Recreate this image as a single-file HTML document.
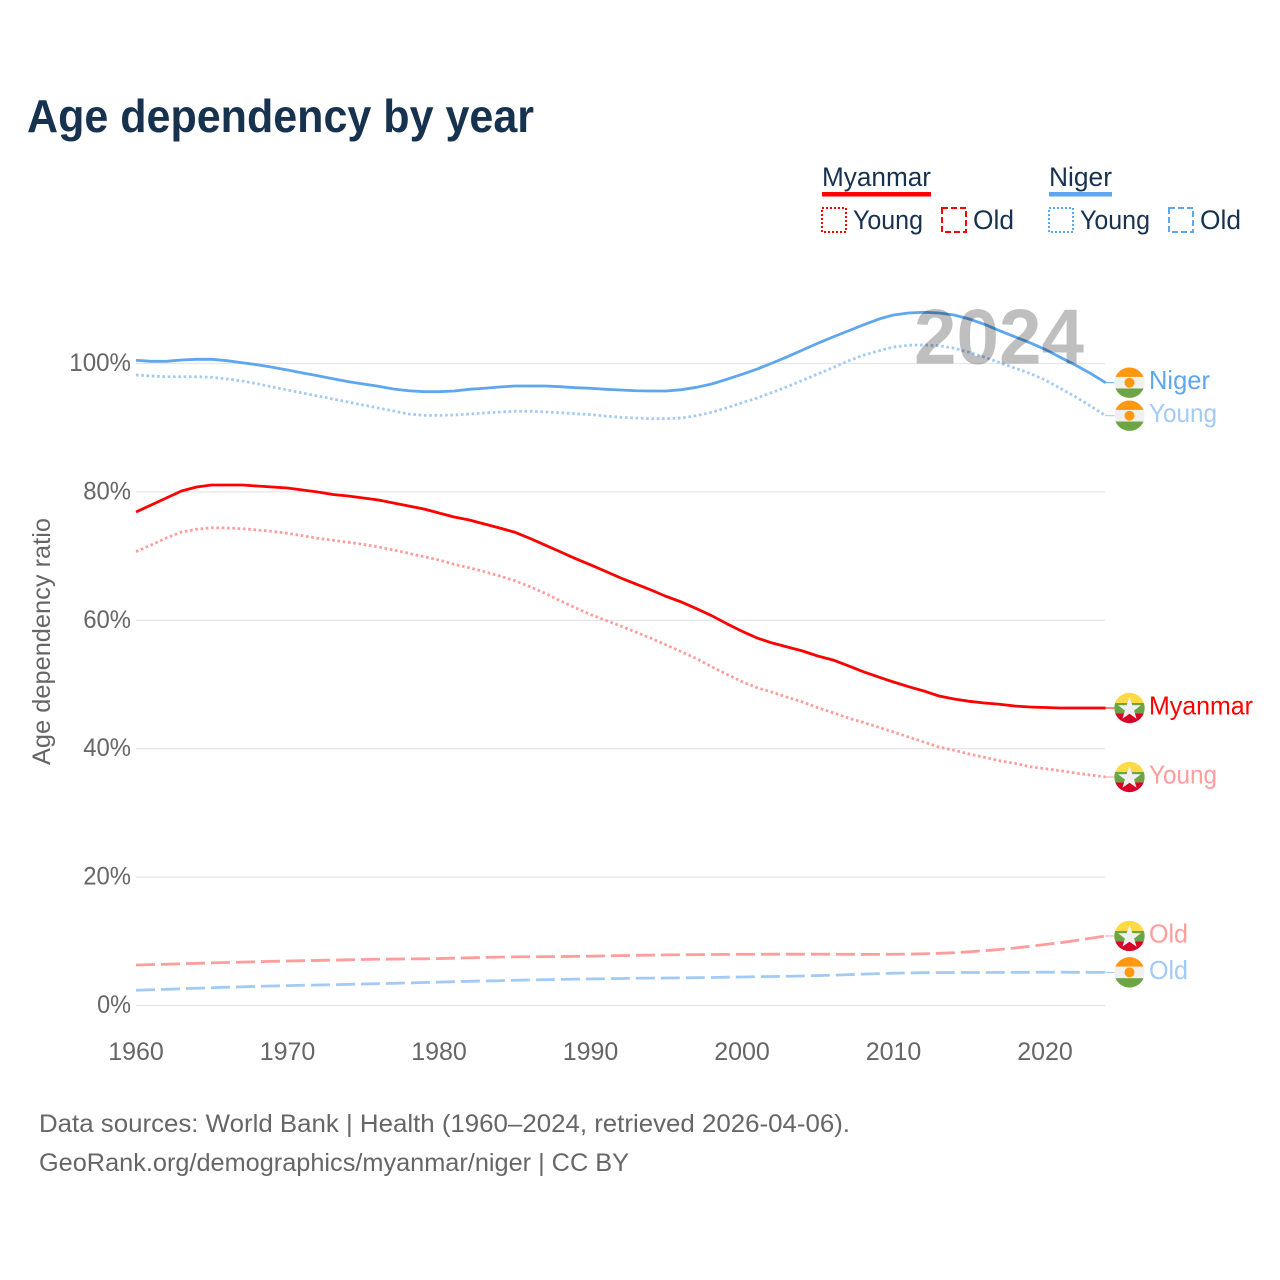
<!DOCTYPE html>
<html lang="en">
<head>
<meta charset="utf-8">
<title>Age dependency by year</title>
<style>
html,body{margin:0;padding:0;background:#fff;width:1280px;height:1280px;overflow:hidden}
svg{display:block}
text{font-family:"Liberation Sans",sans-serif}
</style>
</head>
<body>
<svg id="chart" xmlns="http://www.w3.org/2000/svg" width="1280" height="1280" viewBox="0 0 1280 1280">
  <rect width="1280" height="1280" fill="#fff"/>
  <text x="27" y="132" font-size="46" font-weight="700" fill="#17324f" textLength="507" lengthAdjust="spacingAndGlyphs">Age dependency by year</text>

  <g font-size="27" fill="#17324f">
    <text x="822" y="186" textLength="109" lengthAdjust="spacingAndGlyphs">Myanmar</text>
    <rect x="822" y="192" width="109" height="4.5" fill="#ff0000"/>
    <rect x="822" y="208" width="24" height="24" fill="none" stroke="#ff0000" stroke-width="2" stroke-dasharray="2 2"/>
    <text x="853" y="229" textLength="70" lengthAdjust="spacingAndGlyphs">Young</text>
    <rect x="942" y="208" width="24" height="24" fill="none" stroke="#ff0000" stroke-width="2" stroke-dasharray="6 3"/>
    <text x="973" y="229" textLength="41" lengthAdjust="spacingAndGlyphs">Old</text>

    <text x="1049" y="186" textLength="63" lengthAdjust="spacingAndGlyphs">Niger</text>
    <rect x="1049" y="192" width="63" height="4.5" fill="#5ea6ee"/>
    <rect x="1049" y="208" width="24" height="24" fill="none" stroke="#5ea6ee" stroke-width="2" stroke-dasharray="2 2"/>
    <text x="1080" y="229" textLength="70" lengthAdjust="spacingAndGlyphs">Young</text>
    <rect x="1169" y="208" width="24" height="24" fill="none" stroke="#5ea6ee" stroke-width="2" stroke-dasharray="6 3"/>
    <text x="1200" y="229" textLength="41" lengthAdjust="spacingAndGlyphs">Old</text>
  </g>

  <g id="grid"></g>
  <g id="yticks" font-size="25" fill="#666" text-anchor="end"></g>
  <g id="xticks" font-size="25" fill="#666" text-anchor="middle"></g>
  <text transform="translate(50,641.5) rotate(-90)" font-size="25" fill="#666" text-anchor="middle" textLength="247" lengthAdjust="spacingAndGlyphs">Age dependency ratio</text>

  <g id="series"></g>
  <text x="1084" y="363.5" font-size="78" font-weight="700" fill="#000" fill-opacity="0.25" text-anchor="end" textLength="170" lengthAdjust="spacingAndGlyphs">2024</text>
  <g id="ends"></g>

  <g font-size="25" fill="#666">
    <text x="39" y="1132" textLength="811" lengthAdjust="spacingAndGlyphs">Data sources: World Bank | Health (1960–2024, retrieved 2026-04-06).</text>
    <text x="39" y="1171" textLength="590" lengthAdjust="spacingAndGlyphs">GeoRank.org/demographics/myanmar/niger | CC BY</text>
  </g>
</svg>
<script>
const startYear = 1960;
const yTickValues = [0, 20, 40, 60, 80, 100];
const xTickValues = [1960, 1970, 1980, 1990, 2000, 2010, 2020];

const myanmarTotal = [76.87,77.96,79.05,80.14,80.76,81.07,81.07,81.07,80.92,80.76,80.61,80.30,79.98,79.60,79.36,79.05,78.74,78.27,77.80,77.34,76.71,76.09,75.62,75.00,74.38,73.72,72.76,71.72,70.68,69.62,68.64,67.62,66.59,65.65,64.72,63.71,62.85,61.81,60.72,59.47,58.29,57.24,56.46,55.84,55.22,54.44,53.82,52.93,51.99,51.17,50.39,49.66,48.99,48.21,47.74,47.38,47.12,46.92,46.65,46.50,46.42,46.34,46.34,46.34,46.34];
const myanmarYoung = [70.69,71.73,72.82,73.75,74.18,74.42,74.38,74.27,74.07,73.86,73.55,73.18,72.77,72.46,72.15,71.84,71.42,70.95,70.44,69.91,69.39,68.72,68.19,67.57,66.90,66.17,65.23,64.21,63.05,61.95,60.90,60.00,59.10,58.15,57.20,56.15,55.11,54.02,52.77,51.59,50.44,49.50,48.79,48.01,47.27,46.39,45.60,44.80,44.10,43.35,42.60,41.82,41.04,40.26,39.75,39.17,38.66,38.13,37.73,37.20,36.89,36.57,36.21,35.90,35.59];
const myanmarOld = [6.31,6.37,6.43,6.51,6.57,6.64,6.70,6.76,6.82,6.88,6.93,6.98,7.02,7.07,7.12,7.17,7.20,7.23,7.26,7.27,7.31,7.37,7.43,7.49,7.54,7.57,7.59,7.60,7.62,7.65,7.68,7.73,7.77,7.82,7.85,7.88,7.91,7.93,7.94,7.96,7.98,7.98,7.99,7.99,7.99,7.99,7.98,7.98,7.96,7.96,7.98,8.01,8.05,8.13,8.22,8.36,8.54,8.72,8.96,9.22,9.50,9.78,10.11,10.48,10.83];
const nigerTotal = [100.50,100.34,100.34,100.55,100.65,100.65,100.44,100.12,99.81,99.41,98.99,98.52,98.10,97.63,97.17,96.81,96.45,96.03,95.76,95.61,95.61,95.72,95.98,96.14,96.34,96.50,96.50,96.50,96.39,96.23,96.14,95.98,95.87,95.76,95.72,95.72,95.92,96.29,96.81,97.54,98.32,99.14,100.08,101.06,102.10,103.15,104.13,105.06,106.00,106.89,107.56,107.87,107.98,107.87,107.56,106.93,106.11,105.11,104.17,103.24,102.21,100.97,99.77,98.47,97.01];
const nigerYoung = [98.21,98.05,97.94,97.94,97.94,97.85,97.59,97.27,96.85,96.34,95.87,95.40,94.94,94.47,94.00,93.54,93.07,92.60,92.13,91.93,91.93,91.98,92.13,92.29,92.45,92.56,92.56,92.45,92.34,92.18,92.03,91.82,91.62,91.51,91.40,91.40,91.51,91.87,92.40,93.11,93.89,94.63,95.51,96.39,97.38,98.36,99.35,100.39,101.28,101.95,102.57,102.84,102.88,102.77,102.37,101.74,101.01,100.12,99.30,98.47,97.43,96.14,94.83,93.38,91.87];
const nigerOld = [2.37,2.45,2.52,2.60,2.69,2.77,2.85,2.91,2.98,3.04,3.10,3.15,3.19,3.24,3.29,3.35,3.40,3.46,3.52,3.58,3.64,3.71,3.77,3.82,3.86,3.93,3.97,4.02,4.07,4.11,4.14,4.17,4.21,4.24,4.27,4.28,4.30,4.33,4.36,4.41,4.44,4.49,4.52,4.56,4.60,4.66,4.72,4.80,4.89,4.97,5.03,5.08,5.11,5.12,5.14,5.14,5.14,5.16,5.17,5.17,5.19,5.19,5.17,5.17,5.16];

const NS = 'http://www.w3.org/2000/svg';
function xScale(year){ return 136 + (year - 1960) * 15.15; }
function yScale(v){ return 1005.5 - v * 6.42; }
function make(tag, attrs, parent){
  const el = document.createElementNS(NS, tag);
  for (const k in attrs) el.setAttribute(k, attrs[k]);
  parent.appendChild(el);
  return el;
}

const gridG = document.getElementById('grid');
const yG = document.getElementById('yticks');
yTickValues.forEach(function(v){
  const line = make('line', {x1:136, x2:1105, y1:yScale(v), y2:yScale(v), stroke:'#e6e6e6', 'stroke-width':1.3}, gridG);
  
  
  const labelWidth = String(v).length * 13.9 + 20;
  const t = make('text', {x:131, y:yScale(v) + 7.5, textLength:labelWidth, lengthAdjust:'spacingAndGlyphs'}, yG);
  
  
  t.textContent = v + '%';
});

const xG = document.getElementById('xticks');
xTickValues.forEach(function(year){
  const t = make('text', {x:xScale(year), y:1060}, xG);
  
  
  t.textContent = year;
});

const seriesG = document.getElementById('series');
const endsG = document.getElementById('ends');

function drawLine(values, color, width, dash, name){
  const pts = values.map(function(v, i){ return xScale(startYear + i).toFixed(2) + ',' + yScale(v).toFixed(2); }).join(' ');
  const attrs = {points:pts, fill:'none', stroke:color, 'stroke-width':width, 'stroke-linejoin':'round'};
  if (dash) attrs['stroke-dasharray'] = dash;
  const line = make('polyline', attrs, seriesG);
  
  
}

function drawFlag(parent, kind, cx, cy, clipId){
  const clip = make('clipPath', {id:clipId}, parent);
  make('circle', {cx:cx, cy:cy, r:15.2}, clip);
  const g = make('g', {'clip-path':'url(#' + clipId + ')'}, parent);
  const x = cx - 16, y = cy - 16;
  if (kind === 'myanmar') {
    make('rect', {x:x, y:y, width:32, height:11, fill:'#ffda44'}, g);
    make('rect', {x:x, y:y + 11, width:32, height:10.4, fill:'#6da544'}, g);
    make('rect', {x:x, y:y + 21.4, width:32, height:11, fill:'#d80027'}, g);
    const pts = [];
    for (let i = 0; i < 10; i++) {
      const r = i % 2 ? 4.8 : 12;
      const a = -Math.PI / 2 + i * Math.PI / 5;
      pts.push((cx + r * Math.cos(a)).toFixed(2) + ',' + (cy + 1 + r * Math.sin(a)).toFixed(2));
    }
    make('polygon', {points:pts.join(' '), fill:'#f0f0f0'}, g);
  } else {
    make('rect', {x:x, y:y, width:32, height:32, fill:'#f0f0f0'}, g);
    make('rect', {x:x, y:y, width:32, height:10.2, fill:'#ff9811'}, g);
    make('rect', {x:x, y:y + 21.8, width:32, height:11, fill:'#6da544'}, g);
    make('circle', {cx:cx, cy:cy, r:5, fill:'#ff9811'}, g);
  }
}

function drawEnd(values, color, flag, label, width, name, clipId){
  const y = yScale(values[values.length - 1]);
  const g = make('g', {}, endsG);
  
  
  make('line', {x1:1105, x2:1115, y1:y, y2:y, stroke:color, 'stroke-width':1}, g);
  drawFlag(g, flag, 1129.5, y, clipId);
  const t = make('text', {x:1149, y:y + 6.5, 'font-size':26, fill:color, textLength:width, lengthAdjust:'spacingAndGlyphs'}, g);
  t.textContent = label;
}

drawLine(nigerOld, '#a3caf5', 2.8, '19 6', 'line-niger-old');
drawLine(myanmarOld, '#ff9c9c', 2.8, '19 6', 'line-myanmar-old');
drawLine(nigerYoung, '#a3caf5', 2.8, '2.6 2.7', 'line-niger-young');
drawLine(myanmarYoung, '#ff9c9c', 2.8, '2.6 2.7', 'line-myanmar-young');
drawLine(nigerTotal, '#5ea6ee', 2.8, null, 'line-niger-total');
drawLine(myanmarTotal, '#ff0000', 2.8, null, 'line-myanmar-total');

drawEnd(nigerTotal, '#5ea6ee', 'niger', 'Niger', 61, 'end-label-niger', 'clip-a');
drawEnd(nigerYoung, '#a3caf5', 'niger', 'Young', 68, 'end-label-niger-young', 'clip-b');
drawEnd(myanmarTotal, '#ff0000', 'myanmar', 'Myanmar', 104, 'end-label-myanmar', 'clip-c');
drawEnd(myanmarYoung, '#ff9c9c', 'myanmar', 'Young', 68, 'end-label-myanmar-young', 'clip-d');
drawEnd(myanmarOld, '#ff9c9c', 'myanmar', 'Old', 39, 'end-label-myanmar-old', 'clip-e');
drawEnd(nigerOld, '#a3caf5', 'niger', 'Old', 39, 'end-label-niger-old', 'clip-f');
</script>
</body>
</html>
